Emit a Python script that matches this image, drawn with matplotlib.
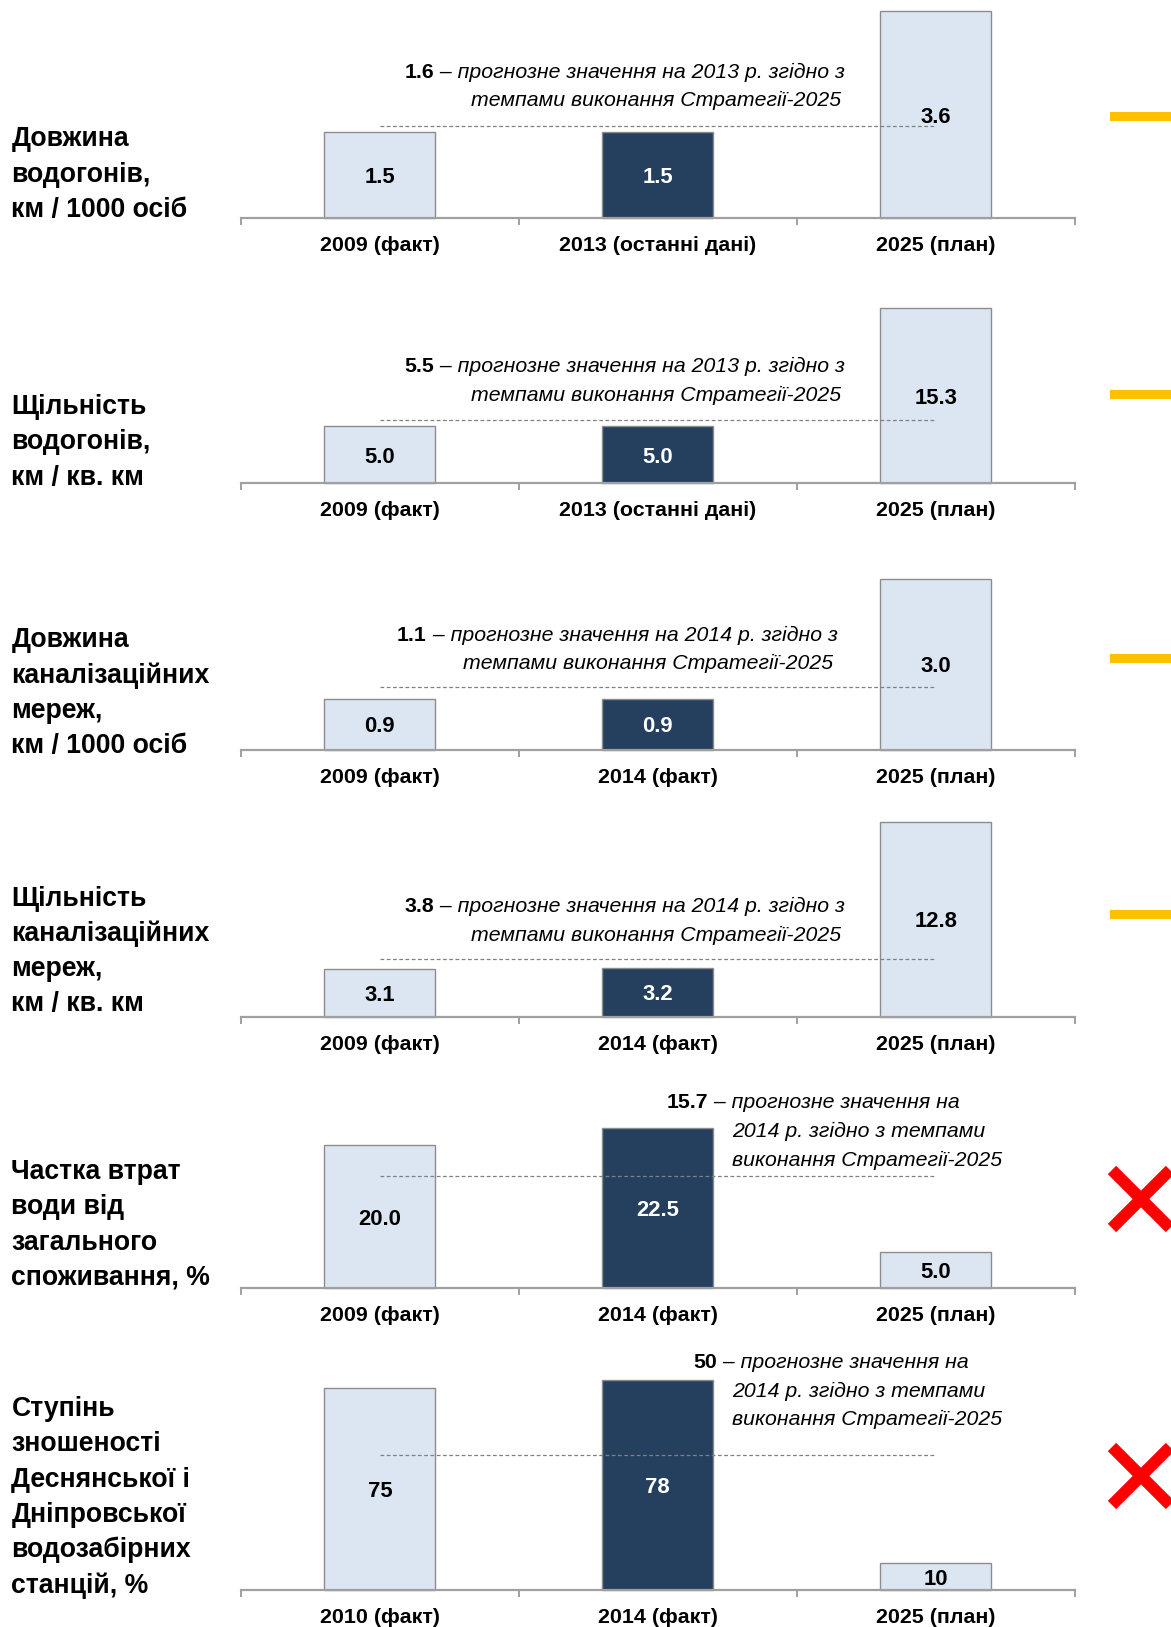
#---importing the libraries---

import matplotlib
matplotlib.use('Agg')
import matplotlib.pyplot as plt  # to plot the data

plt.rcParams['font.family'] = ['Liberation Sans', 'DejaVu Sans']

#---the data---

row_labels = [
    ['Довжина', 'водогонів,', 'км / 1000 осіб'],
    ['Щільність', 'водогонів,', 'км / кв. км'],
    ['Довжина', 'каналізаційних', 'мереж,', 'км / 1000 осіб'],
    ['Щільність', 'каналізаційних', 'мереж,', 'км / кв. км'],
    ['Частка втрат', 'води від', 'загального', 'споживання, %'],
    ['Ступінь', 'зношеності', 'Деснянської і', 'Дніпровської', 'водозабірних', 'станцій, %'],
]
categories = [
    ['2009 (факт)', '2013 (останні дані)', '2025 (план)'],
    ['2009 (факт)', '2013 (останні дані)', '2025 (план)'],
    ['2009 (факт)', '2014 (факт)', '2025 (план)'],
    ['2009 (факт)', '2014 (факт)', '2025 (план)'],
    ['2009 (факт)', '2014 (факт)', '2025 (план)'],
    ['2010 (факт)', '2014 (факт)', '2025 (план)'],
]
values = [
    [1.5, 1.5, 3.6],
    [5.0, 5.0, 15.3],
    [0.9, 0.9, 3.0],
    [3.1, 3.2, 12.8],
    [20.0, 22.5, 5.0],
    [75, 78, 10],
]
value_text = [
    ['1.5', '1.5', '3.6'],
    ['5.0', '5.0', '15.3'],
    ['0.9', '0.9', '3.0'],
    ['3.1', '3.2', '12.8'],
    ['20.0', '22.5', '5.0'],
    ['75', '78', '10'],
]
forecast = [1.6, 5.5, 1.1, 3.8, 15.7, 50]  # forecast values (dashed line)
forecast_text = ['1.6', '5.5', '1.1', '3.8', '15.7', '50']
forecast_year = ['2013', '2013', '2014', '2014', '2014', '2014']
status = ['dash', 'dash', 'dash', 'dash', 'cross', 'cross']

#---layout (pixels of the 1171x1627 picture)---

W, H = 1171, 1627
baseline_px = [218, 483.3, 750, 1016.5, 1288, 1590]
top_px = [11.4, 308, 578.8, 821.5, 1127.5, 1379.5]
label_top_px = [139.5, 407, 640.5, 898.5, 1172, 1409]
note_x_px = [404.5, 404.5, 397, 404.5, 667, 693]
note_y_px = [72, 366.5, 635, 907, 1103, 1362.5]
line2_right_px = [841, 841, 833, 841, None, None]
status_y_px = [116, 394, 657.6, 914, 1199, 1476]

LIGHT = '#DCE6F2'
DARK = '#253F5F'
EDGE = '#8C8C8C'
NOTE_FS = 15.3


def fx(px):
    return px / W


def fy(py):
    return 1 - py / H


fig = plt.figure(figsize=(W / 100, H / 100), dpi=100)

for i in range(6):
    ax = fig.add_axes([fx(241), fy(baseline_px[i]), fx(1074.5) - fx(241),
                       fy(top_px[i]) - fy(baseline_px[i])])
    ax.set_xlim(-0.5, 2.5)
    ax.set_ylim(0, max(values[i]))
    colors = [LIGHT, DARK, LIGHT]
    bars = ax.bar(range(3), values[i], width=0.4, color=colors, edgecolor=EDGE,
                  linewidth=1, clip_on=False, zorder=2)
    for j, b in enumerate(bars):
        ax.annotate(value_text[i][j], xy=(b.get_x() + b.get_width() / 2, values[i][j] / 2),
                    xytext=(0, -2.5), textcoords='offset pixels',
                    ha='center', va='center', fontsize=15.8, fontweight='bold',
                    color='white' if j == 1 else 'black', zorder=4)

    # forecast dashed line from the first to the last bar centre
    ax.plot([0, 2], [forecast[i], forecast[i]], color='#808080', lw=0.9,
            ls=(0, (3, 2)), zorder=3, clip_on=False)

    # axis styling
    for s in ['top', 'right', 'left']:
        ax.spines[s].set_visible(False)
    ax.spines['bottom'].set_color('#A0A0A0')
    ax.spines['bottom'].set_linewidth(1.6)
    ax.set_yticks([])
    ax.set_xticks(range(3))
    ax.set_xticklabels(categories[i], fontsize=15.4, fontweight='bold')
    ax.tick_params(axis='x', which='major', length=0, pad=13)
    ax.set_xticks([-0.5, 0.5, 1.5, 2.5], minor=True)
    ax.tick_params(axis='x', which='minor', length=5, width=1.4, color='#A0A0A0')
    ax.set_facecolor('none')

    # row label on the left
    for k, line in enumerate(row_labels[i]):
        fig.text(fx(11.4), fy(label_top_px[i] + k * 35.3), line, ha='left', va='center',
                 fontsize=19.2, fontweight='bold')

    # forecast note
    t_bold = fig.text(fx(note_x_px[i]), fy(note_y_px[i]), forecast_text[i], ha='left',
                      va='center', fontsize=NOTE_FS, fontweight='bold')
    if status[i] == 'dash':
        first = ' – прогнозне значення на ' + forecast_year[i] + ' р. згідно з'
        ax.annotate(first, xy=(1, 0), xycoords=t_bold, ha='left', va='bottom',
                    fontsize=NOTE_FS, style='italic', annotation_clip=False)
        fig.text(fx(line2_right_px[i]), fy(note_y_px[i] + 28.5),
                 'темпами виконання Стратегії-2025', ha='right', va='center',
                 fontsize=NOTE_FS, style='italic')
    else:
        ax.annotate(' – прогнозне значення на', xy=(1, 0), xycoords=t_bold, ha='left',
                    va='bottom', fontsize=NOTE_FS, style='italic', annotation_clip=False)
        fig.text(fx(732), fy(note_y_px[i] + 28.5), forecast_year[i] + ' р. згідно з темпами',
                 ha='left', va='center', fontsize=NOTE_FS, style='italic')
        fig.text(fx(732), fy(note_y_px[i] + 57), 'виконання Стратегії-2025',
                 ha='left', va='center', fontsize=NOTE_FS, style='italic')

    # status marker on the right
    if status[i] == 'dash':
        sax = fig.add_axes([fx(1110), fy(status_y_px[i] + 10), fx(80), 20 / H])
        sax.set_xlim(0, 1)
        sax.set_ylim(0, 1)
        sax.plot([0, 1], [0.5, 0.5], color='#FFC000', lw=6.5, solid_capstyle='round')
    else:
        sax = fig.add_axes([fx(1112), fy(status_y_px[i] + 29), fx(58), 58 / H])
        sax.set_xlim(0, 1)
        sax.set_ylim(0, 1)
        sax.plot([0, 1], [0, 1], color='#FF0000', lw=8.5, solid_capstyle='butt', clip_on=False)
        sax.plot([0, 1], [1, 0], color='#FF0000', lw=8.5, solid_capstyle='butt', clip_on=False)
    sax.axis('off')

plt.savefig('out.png', dpi=100)
